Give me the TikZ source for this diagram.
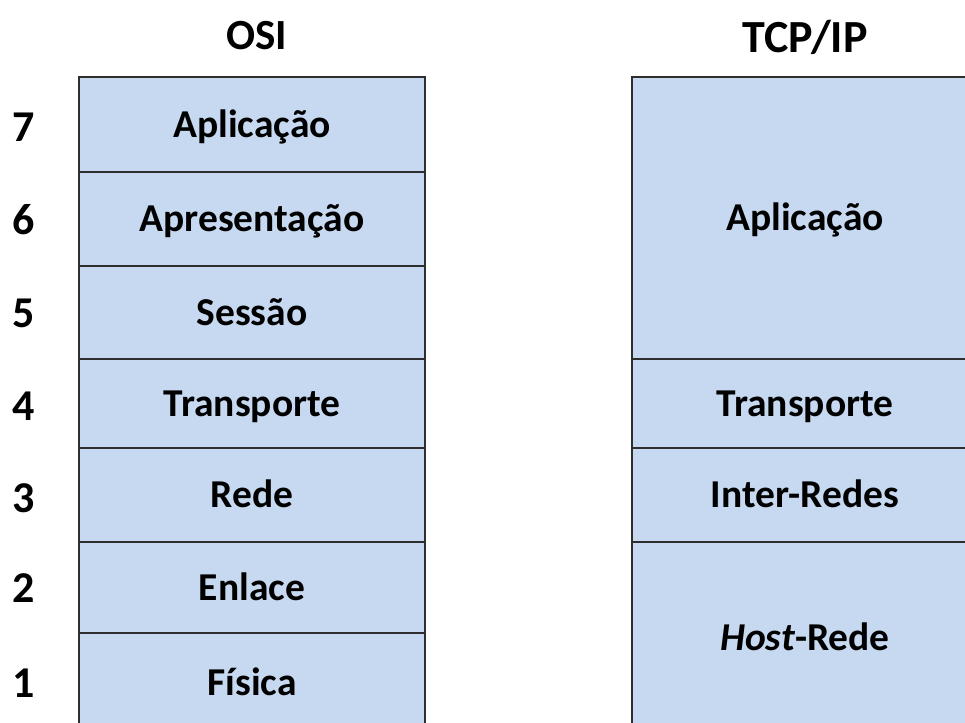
\documentclass[tikz,border=0pt]{standalone}
\usepackage{fontspec}
\setmainfont{Carlito}
\definecolor{layerfill}{HTML}{C6D9F0}
\definecolor{layerline}{HTML}{2E2E2E}
\tikzset{
  layer/.style={draw=layerline, line width=2pt, fill=layerfill, rectangle, inner sep=0pt,
    minimum width=346pt, font=\fontsize{39.5}{42}\selectfont\bfseries, text=black,
    text height=25.4pt, text depth=0pt},
  num/.style={font=\fontsize{44}{46}\selectfont\bfseries, text=black, inner sep=0pt},
  title/.style={font=\fontsize{43}{46}\selectfont\bfseries, text=black, inner sep=0pt,
    text height=27.7pt, text depth=0pt},
}
\begin{document}
\begin{tikzpicture}[x=1pt,y=-1pt]
\useasboundingbox (0,0) rectangle (965,722);
\clip (0,0) rectangle (965,722);
% OSI
\node[layer, minimum height=95pt] (o7) at (252,124.5) {Aplicação};
\node[layer, minimum height=94pt] (o6) at (252,219) {Apresentação};
\node[layer, minimum height=93pt] (o5) at (252,312.5) {Sessão};
\node[layer, minimum height=89pt] (o4) at (252,403.5) {Transporte};
\node[layer, minimum height=94pt] (o3) at (252,495) {Rede};
\node[layer, minimum height=91pt] (o2) at (252,587.5) {Enlace};
\node[layer, minimum height=100pt] (o1) at (252,683) {Física};
% TCP/IP
\node[layer, minimum height=282pt] (t4) at (805,218) {Aplicação};
\node[layer, minimum height=89pt] (t3) at (805,403.5) {Transporte};
\node[layer, minimum height=94pt] (t2) at (805,495) {Inter-Redes};
\node[layer, minimum height=191pt] (t1) at (805,637.5) {\textit{Host}-Rede};
% titles
\node[title] (osi) at (257,36) {OSI};
\node[title, font=\fontsize{46}{48}\selectfont\bfseries, text height=29.6pt] (tcp) at (805,38) {TCP/IP};
% numbers
\node[num] (n7) at (24,127) {7};
\node[num] (n6) at (24,220) {6};
\node[num] (n5) at (24,313) {5};
\node[num] (n4) at (24,406) {4};
\node[num] (n3) at (24,498) {3};
\node[num] (n2) at (24,588) {2};
\node[num] (n1) at (24,683) {1};
\end{tikzpicture}
\end{document}
